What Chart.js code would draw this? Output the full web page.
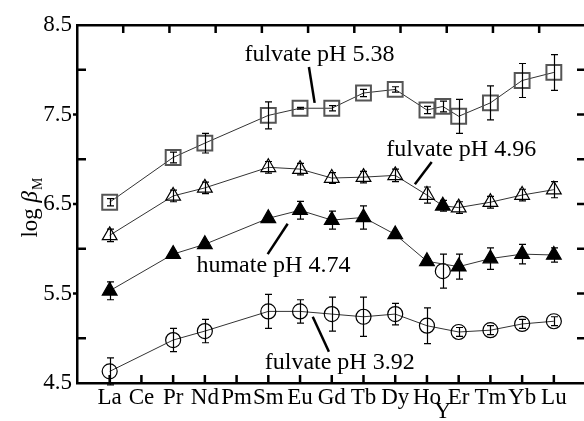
<!DOCTYPE html>
<html>
<head>
<meta charset="utf-8">
<script src="https://cdn.jsdelivr.net/npm/chart.js@4.4.1/dist/chart.umd.min.js"></script>
<style>
    body { margin: 0; background: #fff; }
    #js-stability-chart { display: block; }
</style>
</head>
<body>
<canvas id="js-stability-chart" width="584" height="421"></canvas>
<script>
var elementLabels = ["La", "Ce", "Pr", "Nd", "Pm", "Sm", "Eu", "Gd", "Tb", "Dy", "Ho", "Er", "Tm", "Yb", "Lu"];
// Y gets no slot of its own, it sits half way between Ho and Er
var yttriumPosition = 10.5;
var measuredPositions = [0, 2, 3, 5, 6, 7, 8, 9, 10, 10.5, 11, 12, 13, 14];

var fulvate538 = [6.52, 7.02, 7.18, 7.49, 7.57, 7.57, 7.74, 7.78, 7.55, 7.59, 7.48, 7.63, 7.88, 7.97];
var fulvate538Err = [0.04, 0.06, 0.11, 0.15, 0.01, 0.03, 0.04, 0.03, 0.04, 0.06, 0.19, 0.19, 0.19, 0.20];

var fulvate496 = [6.15, 6.59, 6.68, 6.91, 6.89, 6.79, 6.80, 6.82, 6.60, 6.48, 6.46, 6.52, 6.60, 6.66];
var fulvate496Err = [0.07, 0.065, 0.065, 0.065, 0.065, 0.06, 0.065, 0.07, 0.09, 0.06, 0.065, 0.065, 0.065, 0.09];

var humate474 = [5.53, 5.94, 6.05, 6.34, 6.43, 6.32, 6.35, 6.16, 5.86, null, 5.80, 5.89, 5.94, 5.93];
var humate474Err = [0.10, 0.03, 0.03, 0.03, 0.10, 0.10, 0.13, 0.03, 0.03, null, 0.14, 0.12, 0.11, 0.08];
var humateYttrium = [5.75];
var humateYttriumErr = [0.19];

var fulvate392 = [4.63, 4.98, 5.08, 5.30, 5.30, 5.27, 5.24, 5.27, 5.14, null, 5.07, 5.09, 5.16, 5.19];
var fulvate392Err = [0.15, 0.13, 0.13, 0.19, 0.13, 0.19, 0.22, 0.12, 0.20, null, 0.05, 0.05, 0.05, 0.05];

var yTickValues = [4.5, 5.5, 6.5, 7.5, 8.5];

// label text, centre x / baseline y in data units, then the leader line ends
var seriesNotes = [
    { text: "fulvate pH 5.38", x: 6.61, y: 8.10, from: [6.28, 8.03], to: [6.46, 7.63] },
    { text: "fulvate pH 4.96", x: 11.08, y: 7.04, from: [10.15, 6.97], to: [9.62, 6.72] },
    { text: "humate pH 4.74", x: 5.16, y: 5.74, from: [5.61, 6.28], to: [4.98, 5.94] },
    { text: "fulvate pH 3.92", x: 7.25, y: 4.66, from: [6.40, 5.24], to: [6.91, 4.85] }
];

var serifFont = "'Liberation Serif', 'Times New Roman', serif";

function toPoints(positions, values) {
    return positions.map(function (pos, i) {
        return { x: pos, y: values[i] };
    });
}

function yttriumFill(context) {
    return measuredPositions[context.dataIndex] === yttriumPosition ? "#000" : "rgba(0,0,0,0)";
}

var errorBars = {
    id: "errorBars",
    afterDatasetsDraw: function (chart) {
        var ctx = chart.ctx;
        var xs = chart.scales.x, ys = chart.scales.y;
        ctx.save();
        ctx.strokeStyle = "#000";
        ctx.lineWidth = 1.2;
        chart.data.datasets.forEach(function (ds) {
            if (!ds.errors) return;
            ds.data.forEach(function (pt, i) {
                var err = ds.errors[i];
                if (pt.y === null || !err) return;
                var px = Math.round(xs.getPixelForValue(pt.x)) + 0.5;
                var top = ys.getPixelForValue(pt.y + err);
                var bottom = ys.getPixelForValue(pt.y - err);
                ctx.beginPath();
                ctx.moveTo(px, top);
                ctx.lineTo(px, bottom);
                ctx.moveTo(px - 3.5, top);
                ctx.lineTo(px + 3.5, top);
                ctx.moveTo(px - 3.5, bottom);
                ctx.lineTo(px + 3.5, bottom);
                ctx.stroke();
            });
        });
        ctx.restore();
    }
};

var frameDecor = {
    id: "frameDecor",
    afterDraw: function (chart) {
        var ctx = chart.ctx;
        var area = chart.chartArea;
        var xs = chart.scales.x, ys = chart.scales.y, topScale = chart.scales.xTop;
        var i, px, py, v;
        ctx.save();
        ctx.strokeStyle = "#000";
        ctx.lineWidth = 2.5;
        ctx.beginPath();
        for (i = 0; i < elementLabels.length; i++) {
            px = xs.getPixelForValue(i);
            ctx.moveTo(px, area.bottom);
            ctx.lineTo(px, area.bottom - 8);
        }
        for (i = 1; i <= 10; i++) {
            px = topScale.getPixelForValue(i);
            ctx.moveTo(px, area.top);
            ctx.lineTo(px, area.top + 8);
        }
        for (v = 5; v <= 8; v += 0.5) {
            py = ys.getPixelForValue(v);
            if (v % 1 === 0) {
                ctx.moveTo(area.left, py);
                ctx.lineTo(area.left + 9, py);
            } else {
                ctx.moveTo(area.left - 4, py);
                ctx.lineTo(area.left, py);
            }
            ctx.moveTo(area.right, py);
            ctx.lineTo(area.right - 7, py);
        }
        ctx.stroke();

        // series labels with their leader lines
        ctx.fillStyle = "#000";
        ctx.font = "24px " + serifFont;
        ctx.textAlign = "center";
        ctx.textBaseline = "alphabetic";
        seriesNotes.forEach(function (note) {
            ctx.fillText(note.text, xs.getPixelForValue(note.x), ys.getPixelForValue(note.y));
            ctx.beginPath();
            ctx.moveTo(xs.getPixelForValue(note.from[0]), ys.getPixelForValue(note.from[1]));
            ctx.lineTo(xs.getPixelForValue(note.to[0]), ys.getPixelForValue(note.to[1]));
            ctx.stroke();
        });

        // y title: log beta_M
        ctx.translate(37, (area.top + area.bottom) / 2 + 4);
        ctx.rotate(-Math.PI / 2);
        ctx.textAlign = "left";
        var partLog = "log ", partBeta = "\u03B2", partSub = "M";
        ctx.font = "23px " + serifFont;
        var wLog = ctx.measureText(partLog).width;
        ctx.font = "italic 23px " + serifFont;
        var wBeta = ctx.measureText(partBeta).width;
        ctx.font = "14px " + serifFont;
        var wSub = ctx.measureText(partSub).width;
        var start = -(wLog + wBeta + wSub) / 2;
        ctx.font = "23px " + serifFont;
        ctx.fillText(partLog, start, 0);
        ctx.font = "italic 23px " + serifFont;
        ctx.fillText(partBeta, start + wLog, 0);
        ctx.font = "14px " + serifFont;
        ctx.fillText(partSub, start + wLog + wBeta + 1, 5);
        ctx.restore();
    }
};

var lineColor = "#333";

var chart = new Chart(document.getElementById("js-stability-chart"), {
    type: "line",
    data: {
        datasets: [{
            label: "fulvate pH 5.38",
            data: toPoints(measuredPositions, fulvate538),
            errors: fulvate538Err,
            borderColor: lineColor,
            borderWidth: 1,
            pointStyle: "rect",
            pointRadius: 10.5,
            pointBorderColor: "#555",
            pointBorderWidth: 2,
            pointBackgroundColor: "rgba(0,0,0,0)",
            spanGaps: true
        }, {
            label: "fulvate pH 4.96",
            data: toPoints(measuredPositions, fulvate496),
            errors: fulvate496Err,
            borderColor: lineColor,
            borderWidth: 1,
            pointStyle: "triangle",
            pointRadius: 8.5,
            pointBorderColor: "#000",
            pointBorderWidth: 1.2,
            pointBackgroundColor: yttriumFill,
            spanGaps: true
        }, {
            label: "humate pH 4.74",
            data: toPoints(measuredPositions, humate474),
            errors: humate474Err,
            borderColor: lineColor,
            borderWidth: 1,
            pointStyle: "triangle",
            pointRadius: 8.5,
            pointBorderColor: "#000",
            pointBorderWidth: 1.2,
            pointBackgroundColor: "#000",
            spanGaps: true
        }, {
            label: "humate pH 4.74 (Y)",
            data: toPoints([yttriumPosition], humateYttrium),
            errors: humateYttriumErr,
            showLine: false,
            pointStyle: "circle",
            pointRadius: 7.5,
            pointBorderColor: "#000",
            pointBorderWidth: 1.2,
            pointBackgroundColor: "rgba(0,0,0,0)"
        }, {
            label: "fulvate pH 3.92",
            data: toPoints(measuredPositions, fulvate392),
            errors: fulvate392Err,
            borderColor: lineColor,
            borderWidth: 1,
            pointStyle: "circle",
            pointRadius: 7.5,
            pointBorderColor: "#000",
            pointBorderWidth: 1.2,
            pointBackgroundColor: "rgba(0,0,0,0)",
            spanGaps: true
        }]
    },
    options: {
        responsive: false,
        animation: false,
        layout: { autoPadding: false, padding: { top: 25, right: 0, left: 0, bottom: 0 } },
        plugins: {
            legend: { display: false },
            tooltip: { enabled: false }
        },
        scales: {
            x: {
                type: "linear",
                position: "bottom",
                min: -1.03,
                max: 14.95,
                afterBuildTicks: function (scale) {
                    var values = elementLabels.map(function (name, i) { return i; });
                    values.push(yttriumPosition);
                    values.sort(function (a, b) { return a - b; });
                    scale.ticks = values.map(function (v) { return { value: v }; });
                },
                afterFit: function (scale) {
                    scale.height = 38;
                    scale.paddingLeft = 0;
                    scale.paddingRight = 0;
                },
                grid: { display: false, drawTicks: false },
                border: { display: true, color: "#000", width: 2.5 },
                ticks: {
                    autoSkip: false,
                    maxRotation: 0,
                    padding: 7,
                    color: "#000",
                    font: { family: serifFont, size: 23, lineHeight: 0.65 },
                    callback: function (value) {
                        if (value === yttriumPosition) return ["", "Y"];
                        return elementLabels[value];
                    }
                }
            },
            xTop: {
                type: "linear",
                position: "top",
                min: 0,
                max: 10.97,
                afterFit: function (scale) {
                    scale.height = 0;
                    scale.paddingLeft = 0;
                    scale.paddingRight = 0;
                },
                grid: { display: false, drawTicks: false },
                border: { display: true, color: "#000", width: 2.5 },
                ticks: { display: false }
            },
            y: {
                min: 4.5,
                max: 8.5,
                afterBuildTicks: function (scale) {
                    scale.ticks = yTickValues.map(function (v) { return { value: v }; });
                },
                afterFit: function (scale) { scale.width = 77; },
                grid: { display: false, drawTicks: false },
                border: { display: true, color: "#000", width: 2.5 },
                ticks: {
                    padding: 5,
                    color: "#000",
                    font: { family: serifFont, size: 23 },
                    callback: function (value) { return value.toFixed(1); }
                }
            }
        }
    },
    plugins: [errorBars, frameDecor]
});
</script>
</body>
</html>
